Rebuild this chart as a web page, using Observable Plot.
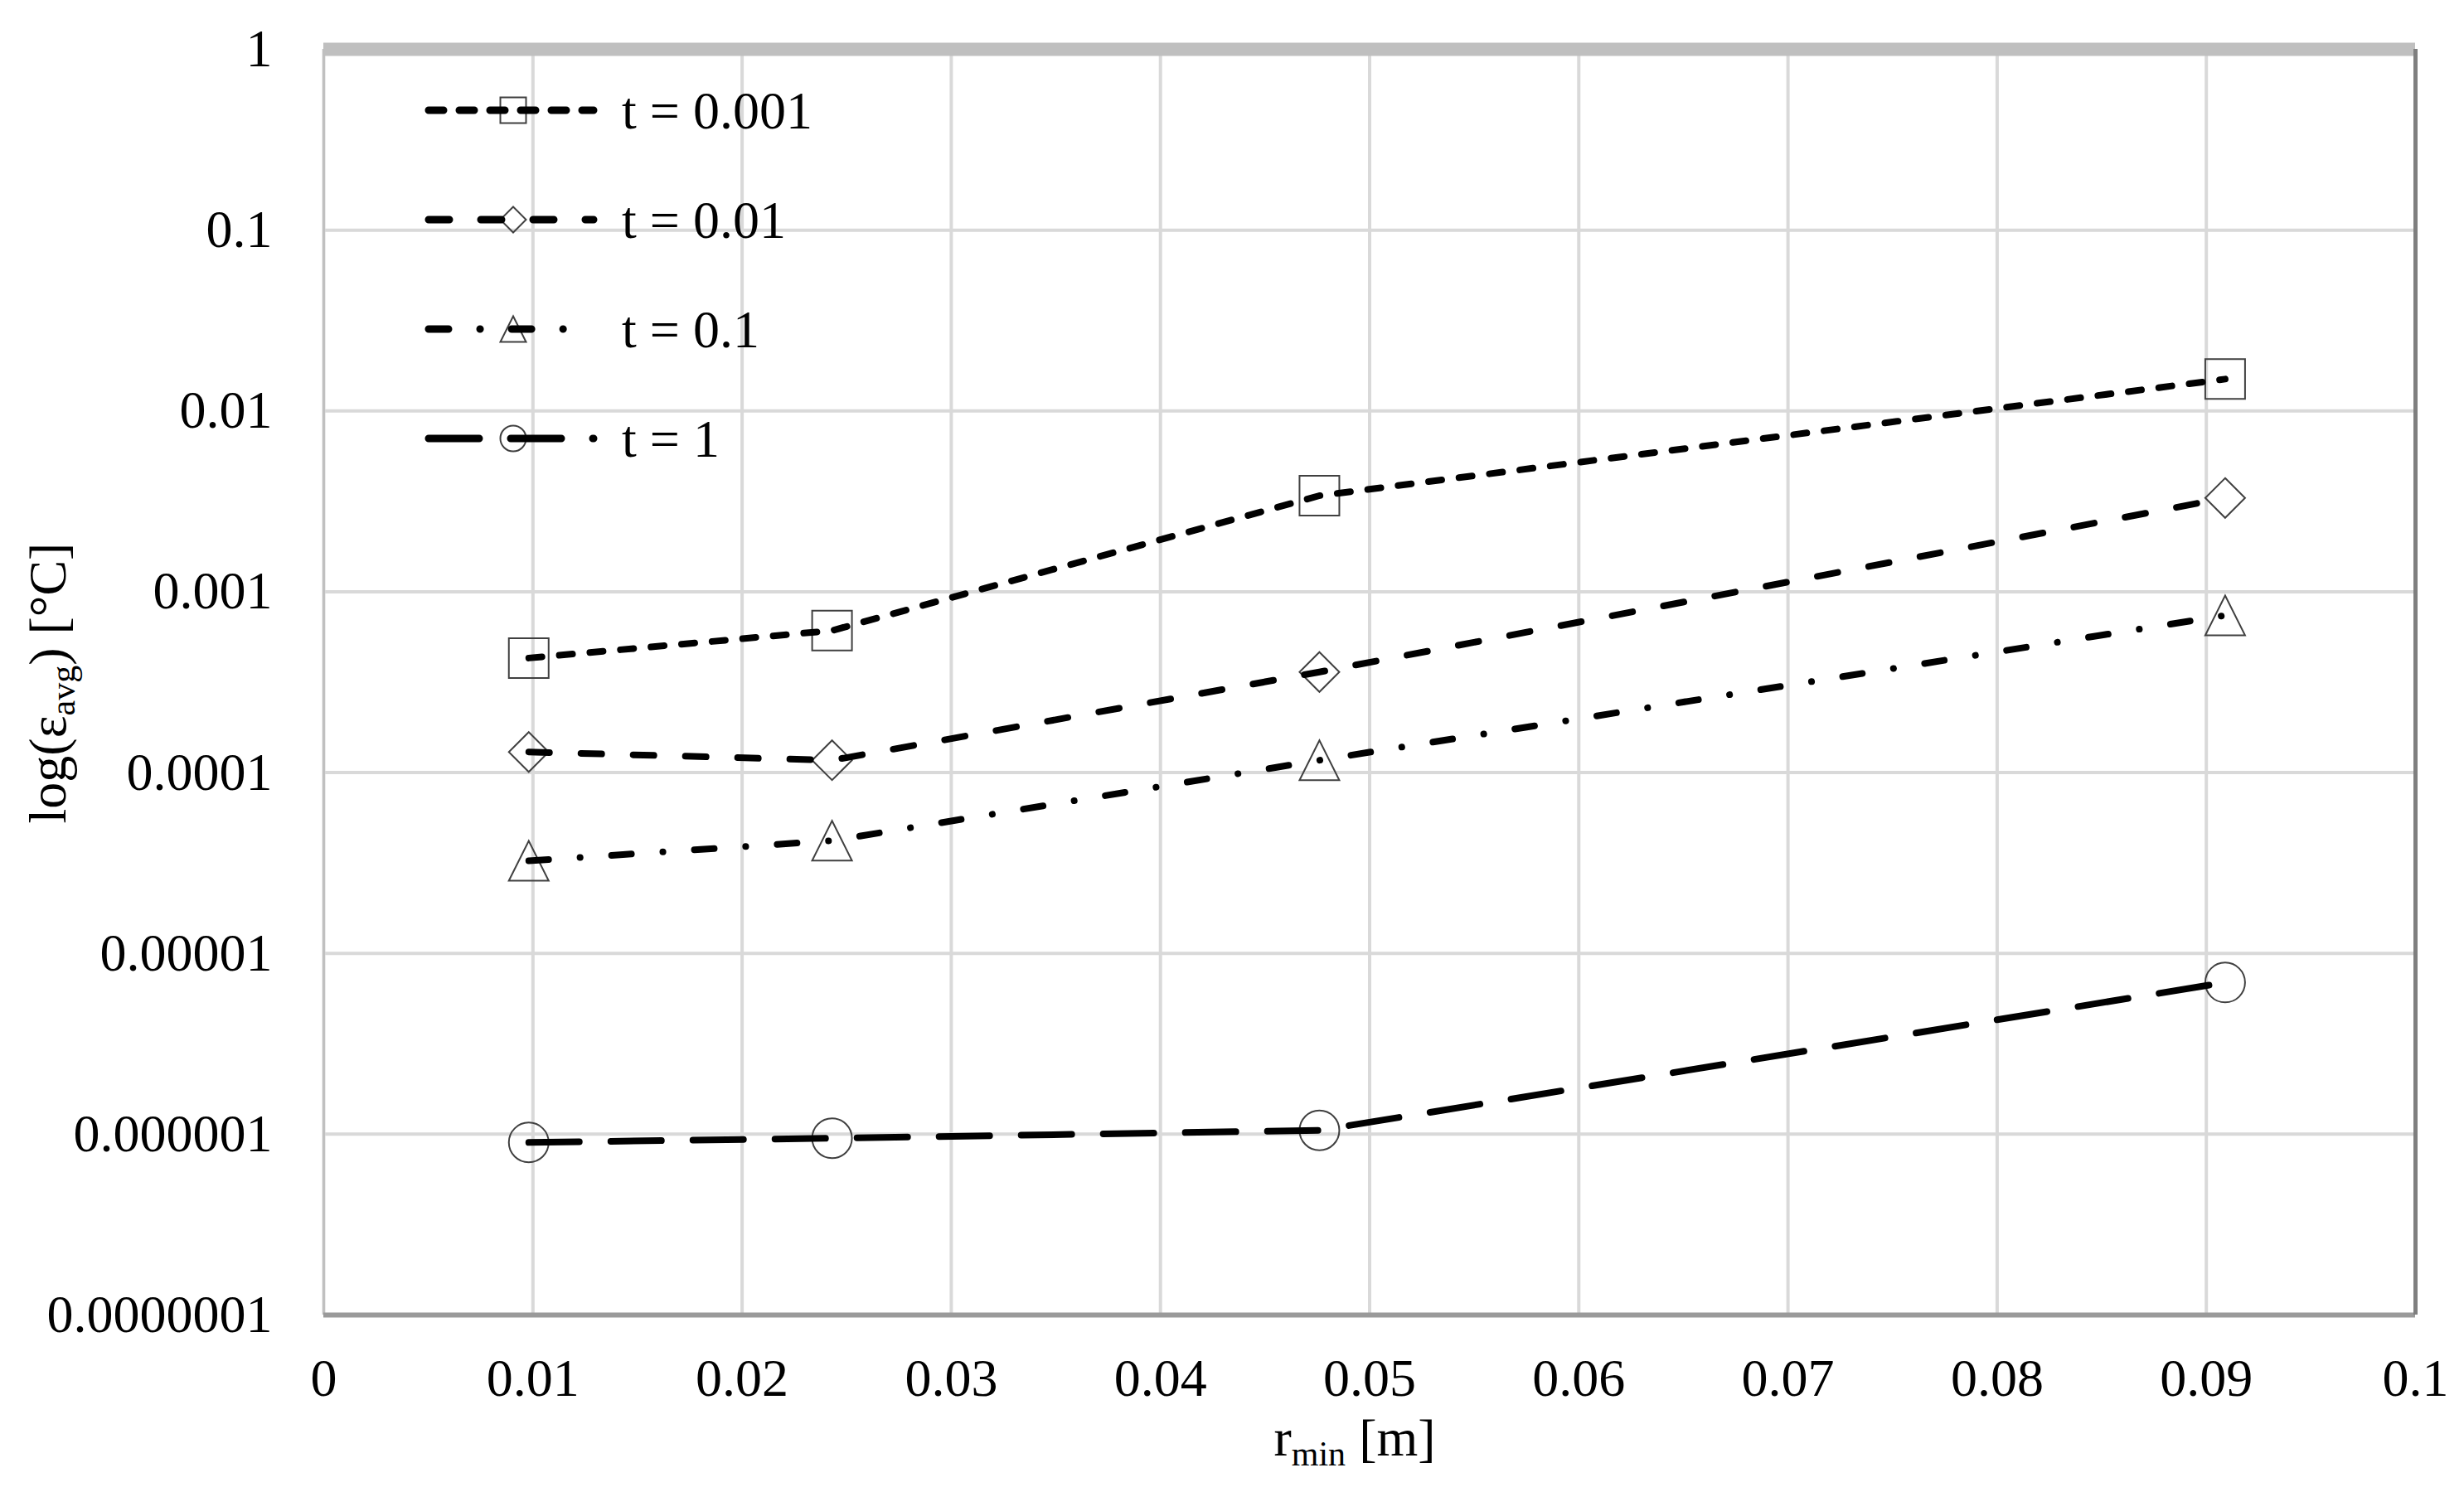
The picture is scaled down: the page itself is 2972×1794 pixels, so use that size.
<!DOCTYPE html>
<html>
<head>
<meta charset="utf-8">
<script src="https://cdn.jsdelivr.net/npm/d3@7"></script>
<script src="https://cdn.jsdelivr.net/npm/@observablehq/plot@0.6"></script>
<style>
  html, body { margin: 0; padding: 0; background: #fff; }
  #chart { position: relative; width: 2972px; height: 1794px; }
</style>
</head>
<body>
<div id="chart"></div>
<script>
// ---- data ----
const rMin = [0.0098, 0.0243, 0.0476, 0.0909];
const seriesNames = ["t = 0.001", "t = 0.01", "t = 0.1", "t = 1"];
const errT0001 = [4.3e-4, 6.1e-4, 3.4e-3, 1.5e-2];
const errT001  = [1.30e-4, 1.17e-4, 3.6e-4, 3.3e-3];
const errT01   = [3.25e-5, 4.2e-5, 1.17e-4, 7.4e-4];
const errT1    = [9.0e-7, 9.5e-7, 1.05e-6, 6.9e-6];
const xTicks = [0, 0.01, 0.02, 0.03, 0.04, 0.05, 0.06, 0.07, 0.08, 0.09, 0.1];
const xTickLabels = ["0", "0.01", "0.02", "0.03", "0.04", "0.05", "0.06", "0.07", "0.08", "0.09", "0.1"];
const yTicks = [1e-7, 1e-6, 1e-5, 1e-4, 1e-3, 1e-2, 1e-1, 1];
const yTickLabels = ["0.0000001", "0.000001", "0.00001", "0.0001", "0.001", "0.01", "0.1", "1"];

// ---- custom marker shapes ----
const rad = (size) => Math.sqrt(size / Math.PI);
const symSquare = {draw(c, s) { const r = rad(s); c.moveTo(-r, -r); c.lineTo(r, -r); c.lineTo(r, r); c.lineTo(-r, r); c.closePath(); }};
const symDiamond = {draw(c, s) { const r = rad(s); c.moveTo(0, -r); c.lineTo(r, 0); c.lineTo(0, r); c.lineTo(-r, 0); c.closePath(); }};
const symTriangle = {draw(c, s) { const r = rad(s); c.moveTo(0, -r); c.lineTo(r, r); c.lineTo(-r, r); c.closePath(); }};
const symCircle = {draw(c, s) { const r = rad(s); c.moveTo(r, 0); c.arc(0, 0, r, 0, 2 * Math.PI); c.closePath(); }};

const seriesValues = [errT0001, errT001, errT01, errT1];
const styles = [
  {symbol: symSquare, dash: "16,21", legendDash: "18,19"},
  {symbol: symDiamond, dash: "25,38", legendDash: "25,38"},
  {symbol: symTriangle, dash: "24,38,0.1,38", legendDash: "24,38,0.1,38"},
  {symbol: symCircle, dash: "61,38", legendDash: "61,38"}
];
const tables = seriesValues.map((vals, k) => rMin.map((x, i) => ({x, y: vals[i], series: seriesNames[k]})));

const FONT = "'Liberation Serif', 'Times New Roman', serif";
const LINE_W = 8;
const MARKER_R = 24;
const MARKER_STROKE = "#404040";

const marks = [
  Plot.gridX(xTicks, {stroke: "#d9d9d9", strokeOpacity: 1, strokeWidth: 4}),
  Plot.gridY(yTicks, {stroke: "#d9d9d9", strokeOpacity: 1, strokeWidth: 4}),
  Plot.ruleX([0], {stroke: "#c0c0c0", strokeWidth: 3}),
  Plot.ruleY([1e-7], {stroke: "#9a9a9a", strokeWidth: 6}),
  Plot.ruleY([1], {stroke: "#bfbfbf", strokeWidth: 16}),
  Plot.ruleX([0.1], {stroke: "#7f7f7f", strokeWidth: 5}),
  Plot.axisX({ticks: xTicks, tickFormat: (d) => xTickLabels[xTicks.indexOf(d)], tickSize: 0, tickPadding: 52, label: null, fontSize: 64}),
  Plot.axisY({ticks: yTicks, tickFormat: (d) => yTickLabels[yTicks.indexOf(d)], tickSize: 0, tickPadding: 62, label: null, fontSize: 64})
];
tables.forEach((t, k) => {
  marks.push(Plot.dot(t, {x: "x", y: "y", r: MARKER_R, symbol: styles[k].symbol, fill: "none", stroke: MARKER_STROKE, strokeWidth: 2}));
});
tables.forEach((t, k) => {
  marks.push(Plot.line(t, {x: "x", y: "y", stroke: "black", strokeWidth: LINE_W, strokeDasharray: styles[k].dash, strokeLinecap: "round", strokeLinejoin: "round"}));
});

const svg = Plot.plot({
  width: 2972,
  height: 1794,
  marginLeft: 390,
  marginRight: 59,
  marginTop: 59,
  marginBottom: 208,
  style: {fontFamily: FONT, fontSize: "64px", background: "white", color: "black"},
  x: {domain: [0, 0.1]},
  y: {type: "log", domain: [1e-7, 1]},
  marks
});
document.getElementById("chart").appendChild(svg);

// ---- axis titles and legend ----
const s = d3.select(svg);
const yTitle = s.append("text")
  .attr("transform", "translate(79,824) rotate(-90)")
  .attr("text-anchor", "middle")
  .style("font-family", FONT).style("font-size", "64px").attr("fill", "black");
yTitle.append("tspan").text("log(ε");
yTitle.append("tspan").text("avg").style("font-size", "42px").attr("dy", 11);
yTitle.append("tspan").text(") [°C]").attr("dy", -11);

const xTitle = s.append("text")
  .attr("x", 1634).attr("y", 1756)
  .attr("text-anchor", "middle")
  .style("font-family", FONT).style("font-size", "64px").attr("fill", "black");
xTitle.append("tspan").text("r");
xTitle.append("tspan").text("min").style("font-size", "42px").attr("dy", 12);
xTitle.append("tspan").text(" [m]").attr("dy", -12);

const legend = s.append("g");
seriesNames.forEach((name, k) => {
  const y = 133 + k * 132;
  const g = legend.append("g");
  g.append("path")
    .attr("d", d3.symbol(styles[k].symbol, Math.PI * 15.5 * 15.5)())
    .attr("transform", `translate(619,${y})`)
    .attr("fill", "none").attr("stroke", MARKER_STROKE).attr("stroke-width", 2);
  g.append("line")
    .attr("x1", 517).attr("x2", 716).attr("y1", y).attr("y2", y)
    .attr("stroke", "black").attr("stroke-width", 9)
    .attr("stroke-dasharray", styles[k].legendDash).attr("stroke-linecap", "round");
  g.append("text")
    .attr("x", 750).attr("y", y).attr("dy", "0.34em")
    .attr("text-anchor", "start")
    .style("font-family", FONT).style("font-size", "64px").attr("fill", "black")
    .text(name);
});
</script>
</body>
</html>
